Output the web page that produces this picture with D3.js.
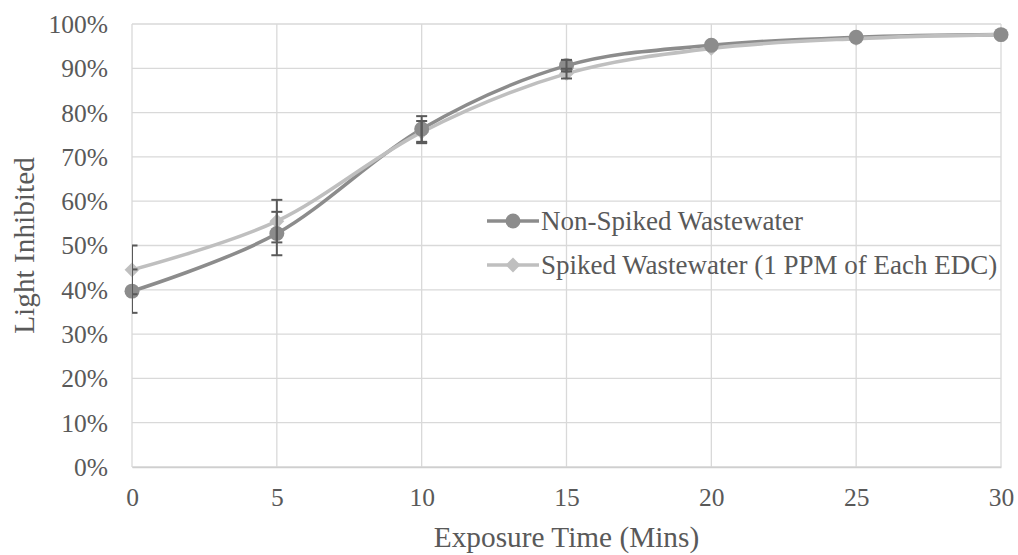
<!DOCTYPE html>
<html>
<head>
<meta charset="utf-8">
<script src="https://cdn.jsdelivr.net/npm/d3@7"></script>
<style>
  html, body { margin: 0; padding: 0; background: #fff; }
  svg { display: block; font-family: "Liberation Serif", "Times New Roman", serif; }
</style>
</head>
<body>
<svg id="chart" width="1018" height="555"></svg>
<script>
// Exposure times (minutes)
const minutes = [0, 5, 10, 15, 20, 25, 30];
// Fraction of light inhibited, per series
const nonSpiked = [0.397, 0.527, 0.763, 0.906, 0.952, 0.970, 0.976];
const spiked    = [0.445, 0.555, 0.756, 0.888, 0.945, 0.967, 0.976];
// Error bar half-widths
const nonSpikedErr = [0.049, 0.049, 0.029, 0.013, 0.000, 0.000, 0.000];
const spikedErr    = [0.055, 0.048, 0.025, 0.011, 0.000, 0.000, 0.000];
const yTicks = [0, 0.1, 0.2, 0.3, 0.4, 0.5, 0.6, 0.7, 0.8, 0.9, 1.0];
const seriesNames = ["Non-Spiked Wastewater", "Spiked Wastewater (1 PPM of Each EDC)"];

const svg = d3.select("#chart");
const margin = { left: 132, right: 17, top: 24, bottom: 88 };
const W = 1018, H = 555;

const x = d3.scaleLinear().domain([0, 30]).range([margin.left, W - margin.right]);
const y = d3.scaleLinear().domain([0, 1]).range([H - margin.bottom, margin.top]);

const gridColor = "#d9d9d9";
const textColor = "#595959";
const serif = "Liberation Serif, Times New Roman, serif";

// Plot-area clip (used by the error bars)
svg.append("clipPath").attr("id", "plotClip").append("rect")
  .attr("x", x(0)).attr("y", y(1) - 10)
  .attr("width", x(30) - x(0)).attr("height", y(0) - y(1) + 20);

// Horizontal gridlines
svg.append("g").selectAll("line").data(yTicks).join("line")
  .attr("x1", x(0)).attr("x2", x(30))
  .attr("y1", d => y(d)).attr("y2", d => y(d))
  .attr("stroke", gridColor).attr("stroke-width", 1.3);

// Vertical gridlines
svg.append("g").selectAll("line").data(minutes).join("line")
  .attr("x1", d => x(d)).attr("x2", d => x(d))
  .attr("y1", y(0)).attr("y2", y(1))
  .attr("stroke", gridColor).attr("stroke-width", 1.3);

// Y axis labels
const yAxis = d3.axisLeft(y).tickValues(yTicks).tickFormat(d3.format(".0%")).tickSize(0).tickPadding(24);
const gy = svg.append("g").attr("transform", `translate(${x(0)},0)`).call(yAxis)
  .attr("font-family", serif).attr("font-size", 25.5);
gy.select(".domain").remove();
gy.selectAll("text").attr("fill", textColor).attr("dy", "0.33em");

// X axis labels
const xAxis = d3.axisBottom(x).tickValues(minutes).tickSize(0);
const gx = svg.append("g").attr("transform", `translate(0,${y(0)})`).call(xAxis)
  .attr("font-family", serif).attr("font-size", 25.5);
gx.select(".domain").attr("stroke", "#cfcfcf").attr("stroke-width", 1.3);
gx.selectAll("text").attr("fill", textColor).attr("y", 39).attr("dy", 0);

// Axis titles
svg.append("text")
  .attr("x", (x(0) + x(30)) / 2).attr("y", 547)
  .attr("text-anchor", "middle").attr("font-size", 29.3).attr("fill", textColor)
  .text("Exposure Time (Mins)");
svg.append("text")
  .attr("transform", `translate(34,${(y(0) + y(1)) / 2}) rotate(-90)`)
  .attr("text-anchor", "middle").attr("font-size", 29.3).attr("fill", textColor)
  .text("Light Inhibited");

const series = [
  { name: seriesNames[0], values: nonSpiked, err: nonSpikedErr, color: "#8c8c8c", shape: "circle" },
  { name: seriesNames[1], values: spiked, err: spikedErr, color: "#bfbfbf", shape: "diamond" }
];

const line = d3.line()
  .x((d, i) => x(minutes[i]))
  .y(d => y(d))
  .curve(d3.curveCatmullRom.alpha(0));

// Series lines
series.forEach(s => {
  svg.append("path").datum(s.values)
    .attr("d", line).attr("fill", "none")
    .attr("stroke", s.color).attr("stroke-width", 3.6)
    .attr("stroke-linejoin", "round").attr("stroke-linecap", "round");
});

// Markers
const circleSym = d3.symbol().type(d3.symbolCircle).size(175);
const diamondSym = d3.symbol().type(d3.symbolSquare).size(110);
function drawMarker(g, s, cx, cy) {
  if (s.shape === "circle") {
    g.append("path").attr("d", circleSym()).attr("transform", `translate(${cx},${cy})`)
      .attr("fill", s.color);
  } else {
    g.append("path").attr("d", diamondSym()).attr("transform", `translate(${cx},${cy}) rotate(45)`)
      .attr("fill", s.color);
  }
}
series.slice().reverse().forEach(s => {
  const g = svg.append("g");
  s.values.forEach((v, i) => drawMarker(g, s, x(minutes[i]), y(v)));
});

// Error bars
const errColor = "#595959";
series.forEach(s => {
  const g = svg.append("g").attr("stroke", errColor).attr("stroke-width", 2)
    .attr("clip-path", "url(#plotClip)");
  s.values.forEach((v, i) => {
    const e = s.err[i];
    if (!e) return;
    const cx = x(minutes[i]);
    g.append("line").attr("x1", cx).attr("x2", cx).attr("y1", y(v - e)).attr("y2", y(v + e));
    [v - e, v + e].forEach(t => {
      g.append("line").attr("x1", cx - 5.5).attr("x2", cx + 5.5).attr("y1", y(t)).attr("y2", y(t));
    });
  });
});

// Legend
const legend = svg.append("g");
series.forEach((s, i) => {
  const ly = 221 + i * 44;
  legend.append("line").attr("x1", 487).attr("x2", 539).attr("y1", ly).attr("y2", ly)
    .attr("stroke", s.color).attr("stroke-width", 3.6);
  drawMarker(legend, s, 513, ly);
  legend.append("text").attr("x", 541).attr("y", ly + 9)
    .attr("font-size", 27).attr("fill", textColor).text(s.name);
});
</script>
</body>
</html>
